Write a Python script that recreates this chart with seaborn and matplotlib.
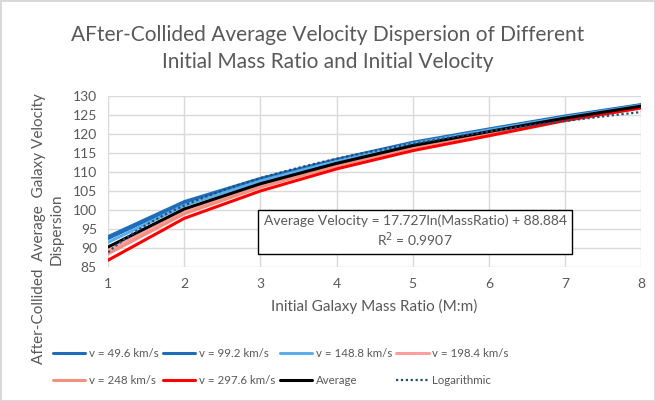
import numpy as np
import pandas as pd
import seaborn as sns
import matplotlib.pyplot as plt
from matplotlib.lines import Line2D

mass_ratio = [1, 2, 3, 4, 5, 6, 7, 8]
v_49_6 = [93.0, 102.2, 108.3, 113.3, 117.8, 121.3, 124.7, 127.7]
v_99_2 = [92.5, 101.8, 108.0, 113.0, 117.6, 121.1, 124.5, 127.6]
v_148_8 = [91.5, 101.2, 107.6, 112.8, 117.4, 121.0, 124.4, 127.5]
v_198_4 = [89.3, 99.6, 106.5, 112.0, 116.8, 120.5, 124.0, 127.2]
v_248 = [88.5, 99.0, 106.0, 111.6, 116.4, 120.2, 123.8, 127.0]
v_297_6 = [86.8, 97.8, 105.0, 110.8, 115.6, 119.5, 123.5, 126.8]
series_names = ['v = 49.6 km/s', 'v = 99.2 km/s', 'v = 148.8 km/s',
                'v = 198.4 km/s', 'v = 248 km/s', 'v = 297.6 km/s']
trend_a = 17.727
trend_b = 88.884
r_squared = 0.9907

colors = ['#1F6DB8', '#1F6DB8', '#5BAEEB', '#FF9E9E', '#F4907F', '#FF0000']
grey = '#595959'

sns.set_theme(style='white')
plt.rcParams['font.family'] = ['Lato', 'DejaVu Sans']

rows = []
for name, vals in zip(series_names, [v_49_6, v_99_2, v_148_8, v_198_4, v_248, v_297_6]):
    for x, y in zip(mass_ratio, vals):
        rows.append({'ratio': x, 'vel': y, 'series': name})
df = pd.DataFrame(rows)
avg = df.groupby('ratio')['vel'].mean().reset_index()

fig = plt.figure(figsize=(6.55, 4.01), dpi=100)
fig.patch.set_edgecolor('#D9D9D9')
fig.patch.set_linewidth(1)
ax = fig.add_axes([0.165, 0.334, 0.814, 0.427])

sns.lineplot(data=df, x='ratio', y='vel', hue='series', palette=colors,
             hue_order=series_names, linewidth=2.2, ax=ax, legend=False)
sns.lineplot(data=avg, x='ratio', y='vel', color='black', linewidth=2.2, ax=ax)

xs = np.linspace(1, 8, 100)
ax.plot(xs, trend_a * np.log(xs) + trend_b, color='#1F4E79', linestyle=(0, (1, 1.2)), linewidth=1.6)

ax.set_xlim(1, 8)
ax.set_ylim(85, 130)
ax.set_xticks(range(1, 9))
ax.set_yticks(range(85, 131, 5))
ax.grid(True, color='#D9D9D9', linewidth=1)
for s in ax.spines.values():
    s.set_visible(False)
ax.tick_params(colors=grey, labelsize=10, length=0, pad=8)
ax.set_xlabel('Initial Galaxy Mass Ratio (M:m)', color=grey, fontsize=11, labelpad=6)
ax.set_ylabel('')
fig.text(0.073, 0.429, 'After-Collided  Average  Galaxy Velocity\nDispersion', rotation=90,
         ha='center', va='center', color=grey, fontsize=11, linespacing=1.25)

ax.text(5.03, 94.3, 'Average Velocity = %.3fln(MassRatio) + %.3f\nR$^2$ = %.4f'
        % (trend_a, trend_b, r_squared), ha='center', va='center', fontsize=10, color=grey,
        bbox=dict(boxstyle='square,pad=0.4', facecolor='white', edgecolor='black', linewidth=1))

fig.text(0.5, 0.88, 'AFter-Collided Average Velocity Dispersion of Different\n'
         'Initial Mass Ratio and Initial Velocity', ha='center', va='center',
         fontsize=15, color=grey, linespacing=1.45)

handles = [Line2D([], [], color=c, linewidth=2.2) for c in colors]
handles += [Line2D([], [], color='black', linewidth=2.2),
            Line2D([], [], color='#1F4E79', linestyle=(0, (1, 1.2)), linewidth=1.6)]
labels = series_names + ['Average', 'Logarithmic']
order = [0, 4, 1, 5, 2, 6, 3, 7]
fig.legend([handles[i] for i in order], [labels[i] for i in order], ncol=4,
           loc='center left', bbox_to_anchor=(0.065, 0.085), frameon=False, fontsize=8.3,
           labelcolor=grey, handlelength=2.8, columnspacing=0.4, handletextpad=0.3,
           labelspacing=1.4)

fig.savefig('out.png', dpi=100)
